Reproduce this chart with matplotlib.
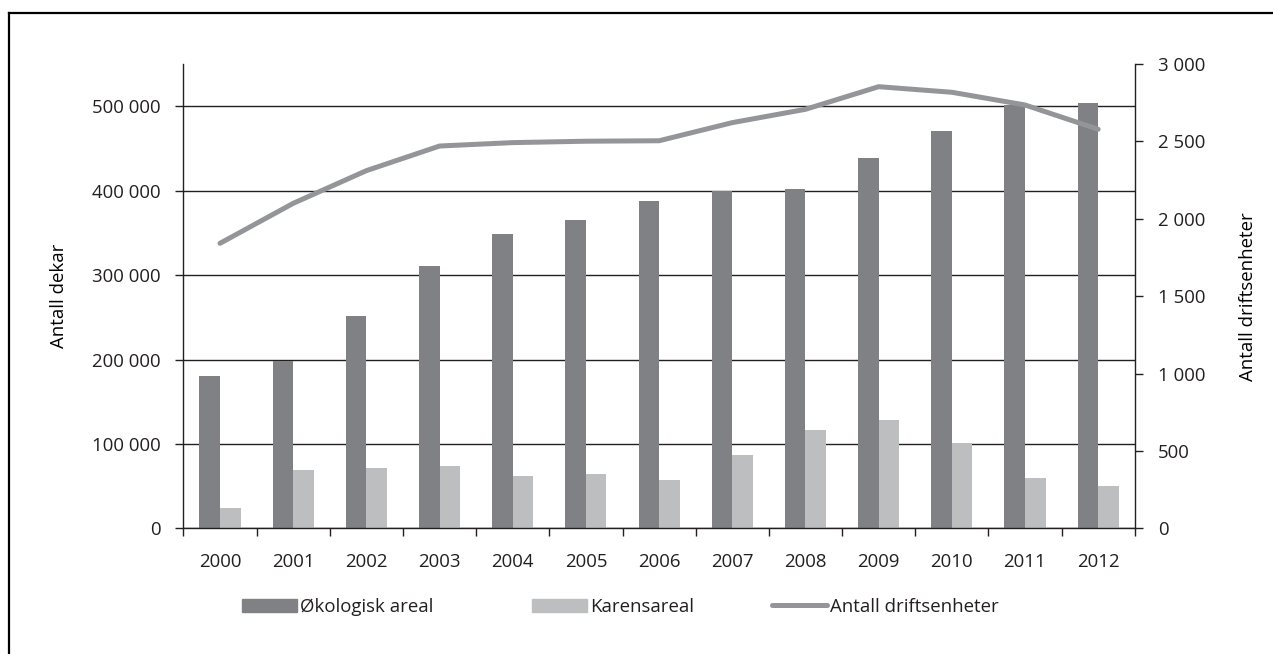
import numpy as np
import matplotlib
matplotlib.use('Agg')
import matplotlib.pyplot as plt
from matplotlib.lines import Line2D
from matplotlib.patches import Patch
from matplotlib.ticker import FuncFormatter, FixedLocator

plt.rcParams['font.family'] = ['Open Sans', 'DejaVu Sans']
plt.rcParams['font.size'] = 13.4
plt.rcParams['text.color'] = '#231f20'

years = ['2000', '2001', '2002', '2003', '2004', '2005', '2006',
         '2007', '2008', '2009', '2010', '2011', '2012']
okologisk_areal = [181000, 198000, 252000, 311000, 349000, 365000, 388000,
                   400000, 402000, 439000, 470000, 501000, 503000]
karensareal = [24000, 69000, 72000, 74000, 62000, 65000, 57000,
               87000, 117000, 128000, 101000, 60000, 50000]
driftsenheter = [1841, 2099, 2310, 2469, 2491, 2500, 2503,
                 2620, 2706, 2852, 2816, 2734, 2577]

dark = '#808184'
light = '#bcbec0'
line_col = '#939598'
ink = '#231f20'

def space_fmt(v, pos):
    return f'{int(round(v)):,}'.replace(',', ' ')

fig = plt.figure(figsize=(12.73, 6.54), dpi=100)
ax = fig.add_axes([0.1441, 0.1919, 0.8914 - 0.1441, 0.9025 - 0.1919])

x = np.arange(len(years))
w = 0.281
ax.bar(x - w / 2, okologisk_areal, w, color=dark, zorder=2)
ax.bar(x + w / 2, karensareal, w, color=light, zorder=2)

ax.set_xlim(-0.5, len(years) - 0.5)
ax.set_ylim(0, 550000)
ax.set_yticks(np.arange(0, 500001, 100000))
ax.yaxis.set_major_formatter(FuncFormatter(space_fmt))
ax.grid(axis='y', color=ink, linewidth=1.0, zorder=0)
ax.set_axisbelow(True)

ax.set_xticks(x)
ax.set_xticklabels(years)
ax.xaxis.set_minor_locator(FixedLocator(np.arange(-0.5, len(years), 1)))
ax.tick_params(axis='x', which='major', length=0, pad=18, colors=ink)
ax.tick_params(axis='x', which='minor', length=6, width=1.0, color=ink, direction='out')
ax.tick_params(axis='y', length=6, width=1.0, color=ink, pad=10.5, labelcolor=ink)

for side in ['top', 'right']:
    ax.spines[side].set_visible(False)
for side in ['left', 'bottom']:
    ax.spines[side].set_color(ink)
    ax.spines[side].set_linewidth(1.0)

ax.set_ylabel('Antall dekar', labelpad=17)

ax2 = ax.twinx()
ax2.plot(x, driftsenheter, color=line_col, linewidth=3.6, solid_capstyle='round',
         solid_joinstyle='round', zorder=3)
ax2.set_ylim(0, 3000)
ax2.set_yticks(np.arange(0, 3001, 500))
ax2.yaxis.set_major_formatter(FuncFormatter(space_fmt))
ax2.tick_params(axis='y', length=6, width=1.0, color=ink, pad=10.5, labelcolor=ink)
for side in ['top', 'left', 'bottom']:
    ax2.spines[side].set_visible(False)
ax2.spines['right'].set_color(ink)
ax2.spines['right'].set_linewidth(1.0)
ax2.set_ylabel('Antall driftsenheter', labelpad=24)

# legend, one entry each to keep the uneven spacing
items = [
    (Patch(color=dark), 'Økologisk areal', 242),
    (Patch(color=light), 'Karensareal', 532),
    (Line2D([], [], color=line_col, linewidth=3.6, solid_capstyle='round'), 'Antall driftsenheter', 772),
]
for handle, label, px in items:
    fig.legend([handle], [label], loc='center left',
               bbox_to_anchor=(px / 1273, 1 - 607 / 654),
               frameon=False, borderpad=0, borderaxespad=0,
               handlelength=2.95, handletextpad=0.15)

# frame around the figure (only top and left edges show)
fig.add_artist(Line2D([9 / 1273, 1], [1 - 13 / 654, 1 - 13 / 654],
                      transform=fig.transFigure, color='black', linewidth=1.6))
fig.add_artist(Line2D([9 / 1273, 9 / 1273], [0, 1 - 13 / 654],
                      transform=fig.transFigure, color='black', linewidth=1.6))

fig.savefig('out.png', dpi=100)
